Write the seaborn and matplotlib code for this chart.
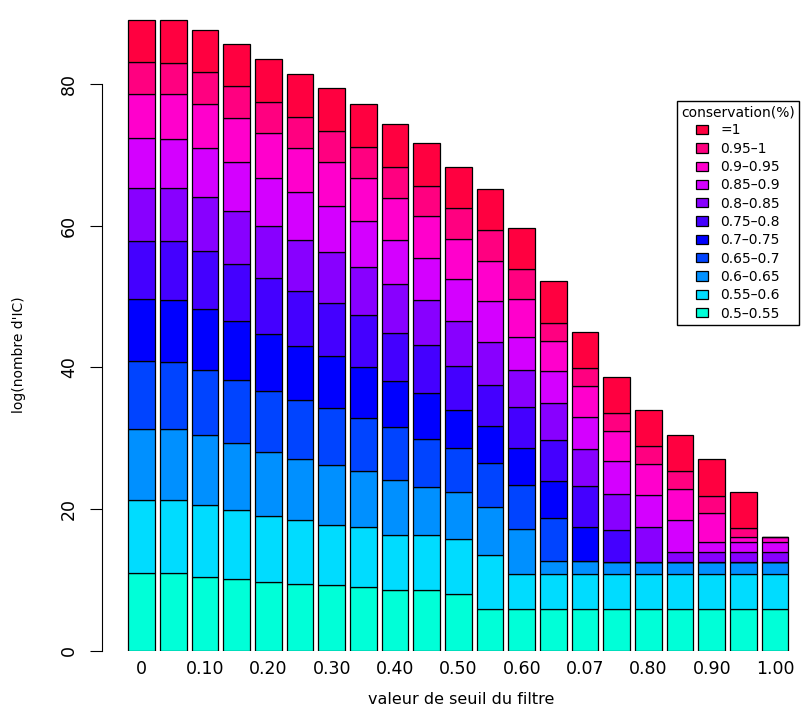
import numpy as np
import pandas as pd
import matplotlib
matplotlib.use('Agg')
import matplotlib.pyplot as plt
import seaborn as sns

plt.rcParams['font.family'] = ['DejaVu Sans']

# 21 barres (seuil du filtre), une etiquette sur deux
seuils = np.arange(21)
etiquettes_x = ['0', '0.10', '0.20', '0.30', '0.40', '0.50',
                '0.60', '0.07', '0.80', '0.90', '1.00']

# classes de conservation, du haut de la pile vers le bas
classes = ['=1', '0.95–1', '0.9–0.95', '0.85–0.9', '0.8–0.85', '0.75–0.8',
           '0.7–0.75', '0.65–0.7', '0.6–0.65', '0.55–0.6', '0.5–0.55']
couleurs = ['#ff0040', '#ff0080', '#ff00cc', '#d400ff', '#8800ff', '#4400ff',
            '#0000ff', '#0044ff', '#0090ff', '#00dcff', '#00ffd8']

# hauteur de chaque segment
c100 = [5.97, 6.02, 6.01, 6.01, 6.02, 6.02, 6.02, 6.07, 6.02, 6.02, 5.78,
        5.83, 5.78, 5.84, 5.11, 5.16, 5.08, 5.12, 5.18, 5.05, 0]
c095 = [4.47, 4.42, 4.43, 4.43, 4.42, 4.42, 4.42, 4.37, 4.37, 4.32, 4.33,
        4.33, 4.32, 2.54, 2.54, 2.46, 2.54, 2.54, 2.44, 1.19, 0]
c090 = [6.25, 6.26, 6.25, 6.29, 6.26, 6.21, 6.12, 6.07, 5.93, 5.88, 5.64,
        5.64, 5.36, 4.28, 4.30, 4.32, 4.33, 4.33, 4.05, 0.71, 0.71]
c085 = [6.97, 6.96, 6.96, 6.87, 6.81, 6.69, 6.57, 6.41, 6.29, 5.88, 5.88,
        5.87, 4.57, 4.51, 4.56, 4.57, 4.51, 4.47, 1.41, 1.41, 1.41]
c080 = [7.48, 7.52, 7.53, 7.48, 7.34, 7.24, 7.11, 6.86, 6.83, 6.39, 6.43,
        6.07, 5.26, 5.26, 5.25, 5.16, 4.94, 1.41, 1.41, 1.41, 1.41]
c075 = [8.27, 8.28, 8.18, 8.08, 7.90, 7.76, 7.52, 7.25, 6.81, 6.81, 6.21,
        5.74, 5.74, 5.74, 5.76, 4.43, 0, 0, 0, 0, 0]
c070 = [8.75, 8.71, 8.61, 8.28, 8.04, 7.66, 7.29, 7.20, 6.49, 6.49, 5.28,
        5.26, 5.22, 5.26, 4.83, 0, 0, 0, 0, 0, 0]
c065 = [9.50, 9.50, 9.26, 8.93, 8.56, 8.28, 8.04, 7.48, 7.48, 6.77, 6.21,
        6.17, 6.21, 6.07, 0, 0, 0, 0, 0, 0, 0]
c060 = [10.02, 10.02, 9.79, 9.45, 9.03, 8.65, 8.47, 7.94, 7.76, 6.73, 6.72,
        6.77, 6.39, 1.79, 1.76, 1.74, 1.74, 1.74, 1.74, 1.74, 1.74]
c055 = [10.30, 10.34, 10.16, 9.74, 9.40, 9.03, 8.55, 8.51, 7.76, 7.72, 7.72,
        7.58, 4.90, 4.90, 4.90, 4.94, 4.94, 4.94, 4.94, 4.94, 4.94]
c050 = [11.05, 10.96, 10.48, 10.12, 9.69, 9.41, 9.27, 8.99, 8.61, 8.65, 8.04,
        5.97, 5.97, 5.97, 5.97, 5.93, 5.93, 5.93, 5.93, 5.93, 5.93]

hauteurs = [c100, c095, c090, c085, c080, c075, c070, c065, c060, c055, c050]

df = pd.DataFrame({
    'seuil': np.tile(seuils, len(classes)),
    'conservation': np.repeat(classes, len(seuils)),
    'hauteur': np.concatenate(hauteurs),
})

fig = plt.figure(figsize=(8.02, 7.10), dpi=100)
ax = fig.add_axes([102.3 / 802, 59 / 710, 697.7 / 802, 651 / 710])

# pile : le dernier niveau de hue_order se retrouve en bas
sns.histplot(data=df, x='seuil', weights='hauteur', hue='conservation',
             hue_order=classes, palette=dict(zip(classes, couleurs)),
             multiple='stack', discrete=True, shrink=0.84, alpha=1,
             edgecolor='black', linewidth=0.9, ax=ax)

ax.set_xlim(-1.244, 20.786)
ax.set_ylim(0, 91.85)

ax.set_xticks(seuils[::2])
ax.set_xticklabels(etiquettes_x)
ax.tick_params(axis='x', length=0, pad=6.8, labelsize=12.5)

ax.set_yticks([0, 20, 40, 60, 80])
ax.tick_params(axis='y', length=8.9, width=0.8, pad=8.5, labelsize=12.5)
for t in ax.get_yticklabels():
    t.set_rotation(90)
    t.set_va('center')

for s in ['top', 'right', 'bottom']:
    ax.spines[s].set_visible(False)
ax.spines['left'].set_bounds(0, 80)
ax.spines['left'].set_linewidth(0.8)

ax.set_xlabel('valeur de seuil du filtre', fontsize=11.5)
ax.xaxis.set_label_coords(0.514, -0.063)
ax.set_ylabel("log(nombre d'IC)", fontsize=10)
ax.yaxis.set_label_coords(-0.1094, 0.455)

sns.move_legend(ax, 'upper right', bbox_to_anchor=(799 / 802, 609 / 710),
                bbox_transform=fig.transFigure, title='conservation(%)',
                title_fontsize=10, fontsize=10, frameon=True, fancybox=False,
                edgecolor='black', framealpha=1, borderaxespad=0,
                borderpad=0.3, labelspacing=0.31, handlelength=0.85,
                handleheight=0.65, handletextpad=0.9)

fig.savefig('out.png', dpi=100)
plt.close(fig)
